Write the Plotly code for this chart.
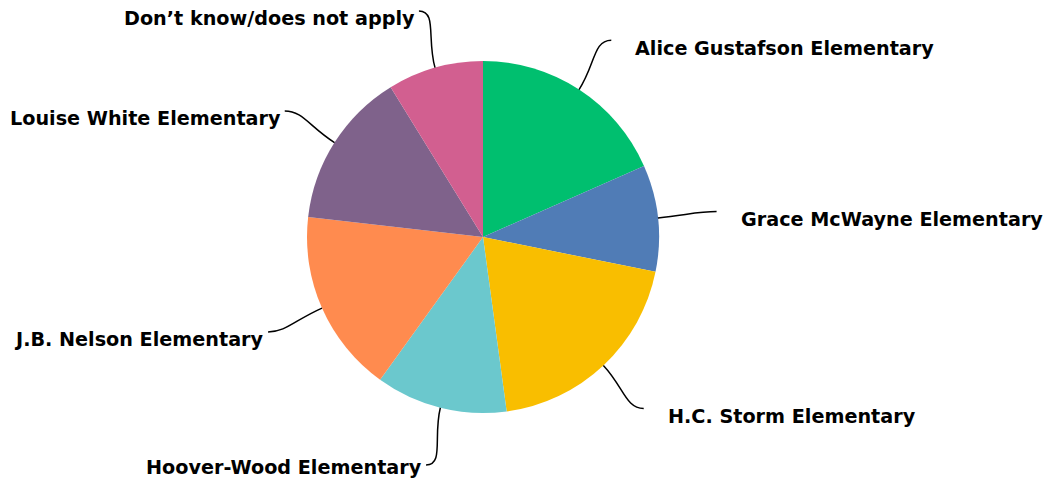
import math
import plotly.graph_objects as go

labels = [
    "Alice Gustafson Elementary",
    "Grace McWayne Elementary",
    "H.C. Storm Elementary",
    "Hoover-Wood Elementary",
    "J.B. Nelson Elementary",
    "Louise White Elementary",
    "Don\u2019t know/does not apply",
]
values = [18.4, 9.8, 19.7, 12.1, 16.9, 14.4, 8.8]
colors = ["#00BF6F", "#507CB6", "#F9BE00", "#6BC8CD", "#FF8B4F", "#7F628B", "#D25F90"]

W, H = 1046, 479
cx, cy, R = 483, 237, 176

fig = go.Figure(go.Pie(
    labels=labels, values=values, sort=False, direction="clockwise", rotation=0,
    marker=dict(colors=colors, line=dict(width=0)),
    textinfo="none", hoverinfo="label+percent", showlegend=False,
    domain=dict(x=[(cx - R) / W, (cx + R) / W], y=[1 - (cy + R) / H, 1 - (cy - R) / H]),
))

def px2paper(x, y):
    return x / W, 1 - y / H

total = sum(values)
cum = 0.0
shapes, annotations = [], []
for lab, v in zip(labels, values):
    mid = (cum + v / 2) / total * 2 * math.pi
    cum += v
    s, c = math.sin(mid), math.cos(mid)
    side = 1 if s >= 0 else -1
    p0 = (cx + R * s, cy - R * c)
    p1 = (cx + 1.17 * R * s, cy - 1.17 * R * c)
    p3 = (cx + 1.335 * R * s, cy - 1.335 * R * c)
    p2 = (p3[0] - side * 18, p3[1])
    pts = [px2paper(*p) for p in (p0, p1, p2, p3)]
    path = "M {:.5f},{:.5f} C {:.5f},{:.5f} {:.5f},{:.5f} {:.5f},{:.5f}".format(
        *[coord for pt in pts for coord in pt])
    shapes.append(dict(type="path", path=path, xref="paper", yref="paper",
                       line=dict(color="#000000", width=1.5)))
    tx = p3[0] + (22 if side > 0 else -2)
    ty = min(p3[1] + 8, H - 12)
    ax, ay = px2paper(tx, ty)
    annotations.append(dict(
        x=ax, y=ay, xref="paper", yref="paper", text=lab, showarrow=False,
        xanchor="left" if side > 0 else "right", yanchor="middle",
        font=dict(family="DejaVu Sans", size=19.2, color="#000000", weight="bold"),
    ))

fig.update_layout(
    width=W, height=H, margin=dict(l=0, r=0, t=0, b=0),
    paper_bgcolor="white", plot_bgcolor="white",
    shapes=shapes, annotations=annotations,
)
fig.write_html("out.html", config={"displayModeBar": False},
               post_script="document.body.style.margin='0px';")
